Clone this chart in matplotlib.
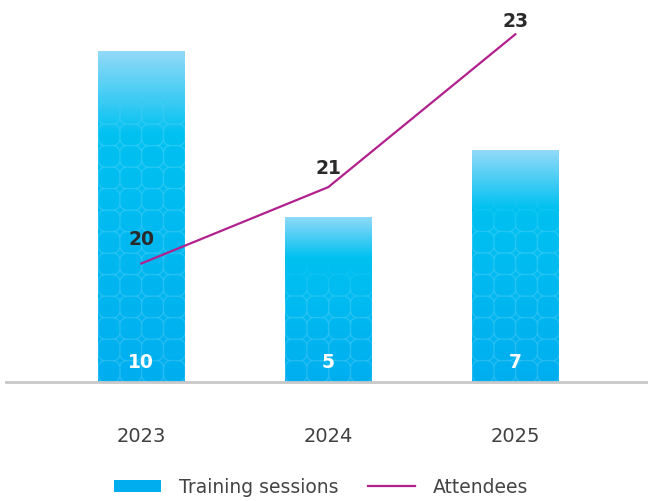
import numpy as np
import matplotlib
matplotlib.use("Agg")
import matplotlib.pyplot as plt
from matplotlib.colors import to_rgb

years = ["2023", "2024", "2025"]
sessions = [10, 5, 7]
attendees = [20, 21, 23]

# offsets (points) of the attendee labels above each line point
label_offsets = [18, 14, 10]

BLUE = "#00aeef"
LIGHT = "#93daf8"
CYAN = "#00c1f1"
LINE = "#b0218e"
GREY = "#404040"

fig = plt.figure(figsize=(6.48, 5.02), dpi=100)
ax = fig.add_axes([6 / 648, 1 - 383 / 502, 642 / 648, 383 / 502])

x = np.arange(len(years))
bars = ax.bar(x, sessions, width=0.46, color=BLUE, zorder=2, label="Training sessions")

px_per_unit = 33.1
cell = 21.5  # pattern cell size in pixels


def bar_image(w_px, h_px, ss=3):
    W, H = int(w_px * ss), int(h_px * ss)
    yy, xx = np.mgrid[0:H, 0:W] / ss
    t = yy  # distance from top, px
    from_bottom = h_px - yy
    # vertical gradient: light at the top, cyan lower down
    g = 0.25 * h_px
    c_top, c_mid, c_bot = map(np.array, (to_rgb(LIGHT), to_rgb(CYAN), to_rgb(BLUE)))
    f1 = np.clip(t / g, 0, 1)[..., None]
    f2 = np.clip((t - g) / max(h_px - g, 1), 0, 1)[..., None]
    rgb = np.where(t[..., None] < g, c_top * (1 - f1) + c_mid * f1, c_mid * (1 - f2) + c_bot * f2)
    # tiled rounded squares
    u = (xx / cell) % 1.0 - 0.5
    v = (from_bottom / cell) % 1.0 - 0.5
    r = 0.32
    qx = np.abs(u) - (0.5 - r)
    qy = np.abs(v) - (0.5 - r)
    d = np.hypot(np.maximum(qx, 0), np.maximum(qy, 0)) + np.minimum(np.maximum(qx, qy), 0) - r
    lw = 0.75 / cell
    line = np.clip(1 - np.abs(d) / lw, 0, 1)
    fade = np.clip((t - 45) / 40, 0, 1)
    a = (line * 0.26 * fade)[..., None]
    rgb = rgb * (1 - a) + a
    return np.dstack([rgb, np.ones((H, W))])


for b in bars:
    x0, w, h = b.get_x(), b.get_width(), b.get_height()
    img = bar_image(86, h * px_per_unit)
    im = ax.imshow(img, extent=(x0, x0 + w, 0, h), aspect="auto",
                   interpolation="bilinear", zorder=3)
    im.set_clip_path(b)

for xi, v in zip(x, sessions):
    ax.annotate(str(v), (xi, 0), xytext=(0, 15), textcoords="offset points",
                ha="center", va="center", color="white", fontsize=13.5,
                fontweight="bold", zorder=5)

ax.set_xlim(-0.7235, 2.7096)
ax.set_ylim(0, 383 / px_per_unit)
ax.set_xticks(x)
ax.set_xticklabels(years, fontsize=14, color=GREY)
ax.tick_params(axis="x", length=0, pad=32)
ax.set_yticks([])
for s in ["top", "right", "left"]:
    ax.spines[s].set_visible(False)
ax.spines["bottom"].set_color("#c8c8c8")
ax.spines["bottom"].set_linewidth(2)
ax.spines["bottom"].set_zorder(6)

ax2 = ax.twinx()
ln, = ax2.plot(x, attendees, color=LINE, lw=1.6, label="Attendees", zorder=4)
ax2.set_ylim(18.449, 23.462)
ax2.axis("off")
for xi, v, off in zip(x, attendees, label_offsets):
    ax2.annotate(str(v), (xi, v), xytext=(0, off), textcoords="offset points",
                 ha="center", va="center", color="#2a2a2a", fontsize=13.5,
                 fontweight="bold")

fig.legend(handles=[bars, ln], loc="center", bbox_to_anchor=(321 / 648, 1 - 488 / 502),
           ncol=2, frameon=False, fontsize=13.5, labelcolor="#444444",
           handlelength=2.5, handleheight=0.6, handletextpad=0.95, columnspacing=1.6)

fig.savefig("out.png", dpi=100)
